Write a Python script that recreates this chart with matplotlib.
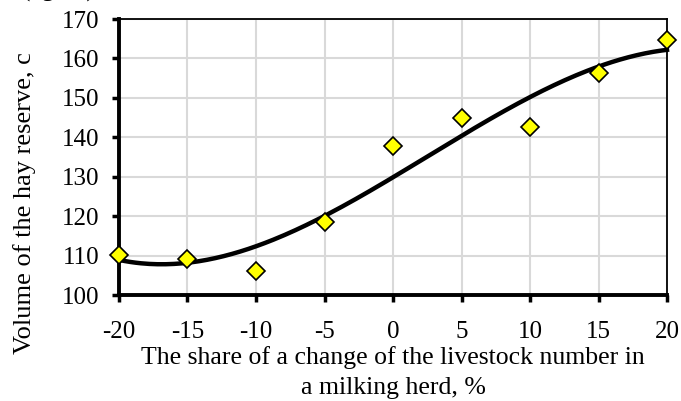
import numpy as np
import matplotlib
matplotlib.use('Agg')
import matplotlib.pyplot as plt

# share of livestock number change, % and hay reserve volume, c
share_change = [-20, -15, -10, -5, 0, 5, 10, 15, 20]
hay_volume = [110.1, 109.2, 106.2, 118.4, 137.8, 144.9, 142.5, 156.3, 164.6]

x_ticks = [-20, -15, -10, -5, 0, 5, 10, 15, 20]
y_ticks = [100, 110, 120, 130, 140, 150, 160, 170]

plt.rcParams['font.family'] = ['Liberation Serif', 'DejaVu Serif']
plt.rcParams['axes.unicode_minus'] = False

W, H = 681, 401
fig = plt.figure(figsize=(W / 100, H / 100), dpi=100)
ax = fig.add_axes([119 / W, 1 - 295 / H, 548 / W, 276 / H])

# cubic trend line like the excel polynomial trendline
coef = np.polyfit(share_change, hay_volume, 3)
xs = np.linspace(-20, 20, 200)
ax.plot(xs, np.polyval(coef, xs), color='black', lw=3.2, zorder=3, clip_on=False)

ax.plot(share_change, hay_volume, linestyle='none', marker='D', ms=9.5,
        mfc='#ffff00', mec='black', mew=1.2, zorder=4, clip_on=False)

ax.set_xlim(-20, 20)
ax.set_ylim(100, 170)
ax.set_xticks(x_ticks)
ax.set_yticks(y_ticks)
ax.grid(True, color='#d9d9d9', lw=1.5)
ax.set_axisbelow(True)

for side in ['left', 'bottom']:
    ax.spines[side].set_linewidth(2.8)
for side in ['top', 'right']:
    ax.spines[side].set_linewidth(1.3)

ax.tick_params(axis='both', direction='out', length=5, width=2.5, labelsize=18)
ax.tick_params(axis='y', pad=9)
ax.tick_params(axis='x', pad=14)

ax.set_xlabel('The share of a change of the livestock number in\na milking herd, %',
              fontsize=18.5, linespacing=1.48, labelpad=2)

# y title sits lower than the axes centre in the reference
fig.text(25 / W, 1 - 203 / H, 'Volume of the hay reserve, c', fontsize=19,
         rotation=90, ha='center', va='center')

# cut-off caption fragment at the very top
fig.text(22 / W, 1 + 3 / H, '(kg/hd)', fontsize=18, ha='left', va='baseline')

fig.savefig('out.png', dpi=100)
